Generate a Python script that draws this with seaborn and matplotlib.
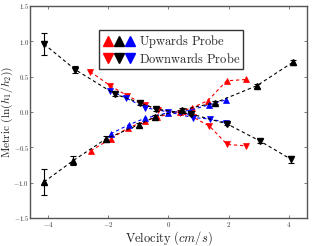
import matplotlib
matplotlib.use("Agg")
import matplotlib.pyplot as plt
import seaborn as sns
import numpy as np
from matplotlib.lines import Line2D
from matplotlib.legend_handler import HandlerTuple
from matplotlib.ticker import FuncFormatter

# ---- data ----
black_up_x = [-4.13, -3.17, -2.07, -0.98, -0.45, 0.45, 1.55, 2.93, 4.12]
black_up_y = [-0.99, -0.69, -0.38, -0.18, -0.07, 0.03, 0.13, 0.37, 0.70]
black_up_err = [0.18, 0.06, 0.04, 0.03, 0.02, 0.02, 0.02, 0.03, 0.03]

black_down_x = [-4.13, -3.10, -1.77, -0.95, -0.40, 0.76, 1.95, 3.03, 4.07]
black_down_y = [0.96, 0.60, 0.25, 0.13, 0.04, -0.03, -0.17, -0.41, -0.67]
black_down_err = [0.16, 0.05, 0.03, 0.03, 0.02, 0.02, 0.02, 0.03, 0.05]

red_up_x = [-2.58, -1.92, -1.36, -0.79, -0.38, 0.37, 0.79, 1.31, 1.93, 2.59]
red_up_y = [-0.55, -0.38, -0.23, -0.13, -0.07, 0.00, 0.06, 0.16, 0.44, 0.46]

red_down_x = [-2.60, -1.93, -1.37, -0.77, -0.35, 0.37, 0.80, 1.36, 1.95, 2.59]
red_down_y = [0.57, 0.37, 0.23, 0.10, 0.03, -0.01, -0.07, -0.20, -0.46, -0.48]

blue_up_x = [-1.92, -1.31, -0.78, 0.00, 0.70, 1.33, 1.90]
blue_up_y = [-0.31, -0.18, -0.09, -0.01, 0.02, 0.10, 0.17]

blue_down_x = [-1.93, -1.42, -0.77, 0.00, 0.81, 1.38, 1.92]
blue_down_y = [0.30, 0.20, 0.06, 0.00, -0.08, -0.10, -0.15]

x_ticks = [-4, -2, 0, 2, 4]
y_ticks = [-1.5, -1.0, -0.5, 0.0, 0.5, 1.0, 1.5]

sns.set_style("ticks")
plt.rcParams["mathtext.fontset"] = "cm"
plt.rcParams["font.family"] = ["DejaVu Serif"]

fig = plt.figure(figsize=(3.12, 2.46), dpi=100)
ax = fig.add_axes([0.096, 0.114, 0.888, 0.862])

RED = "#ff0000"
BLUE = "#0000ff"
BLK = "#000000"
ms = 4.6
lw = 0.8

def series(x, y, color, marker):
    sns.lineplot(x=x, y=y, ax=ax, color=color, marker=marker, markersize=ms,
                 linestyle=(0, (3, 2.5)), linewidth=lw, markeredgecolor=color,
                 markeredgewidth=0.5, sort=False, estimator=None)

series(red_up_x, red_up_y, RED, "^")
series(red_down_x, red_down_y, RED, "v")
series(blue_up_x, blue_up_y, BLUE, "^")
series(blue_down_x, blue_down_y, BLUE, "v")
ax.errorbar(black_up_x, black_up_y, yerr=black_up_err, color=BLK, marker="^",
            markersize=ms, linestyle=(0, (3, 2.5)), linewidth=lw, capsize=2,
            elinewidth=0.8, capthick=0.8)
ax.errorbar(black_down_x, black_down_y, yerr=black_down_err, color=BLK, marker="v",
            markersize=ms, linestyle=(0, (3, 2.5)), linewidth=lw, capsize=2,
            elinewidth=0.8, capthick=0.8)

ax.set_xlim(-4.6, 4.6)
ax.set_ylim(-1.5, 1.5)
ax.set_xticks(x_ticks)
ax.set_yticks(y_ticks)
ax.xaxis.set_major_formatter(FuncFormatter(lambda v, p: r"$%d$" % v))
ax.yaxis.set_major_formatter(FuncFormatter(lambda v, p: r"$%.1f$" % v))
ax.tick_params(direction="in", length=2.5, width=0.6, labelsize=5.0,
               colors="#666666", labelcolor="#333333", top=True, right=True,
               pad=1.5)
ax.tick_params(axis="y", pad=0.8, labelsize=4.8)
for s in ax.spines.values():
    s.set_color("#555555")
    s.set_linewidth(1.0)

ax.set_xlabel(r"$\mathrm{Velocity}\ (cm/s)$", fontsize=9, color="#222222")
ax.set_ylabel(r"$\mathrm{Metric}\ (\ln(h_1/h_2))$", fontsize=8.2, color="#222222")
ax.xaxis.set_label_coords(0.5, -0.052)
ax.yaxis.set_label_coords(-0.053, 0.5)

def mk(c, m):
    return Line2D([], [], color=c, marker=m, linestyle="none", markersize=6.5,
                  markeredgecolor=c)

h_up = (mk(RED, "^"), mk(BLK, "^"), mk(BLUE, "^"))
h_dn = (mk(RED, "v"), mk(BLK, "v"), mk(BLUE, "v"))
leg = ax.legend([h_up, h_dn],
                [r"$\mathrm{Upwards\ Probe}$", r"$\mathrm{Downwards\ Probe}$"],
                handler_map={tuple: HandlerTuple(ndivide=None, pad=0.0)},
                loc="upper center", bbox_to_anchor=(0.51, 0.885),
                fontsize=9, frameon=True, fancybox=False, handlelength=2.6,
                handletextpad=0.3, borderpad=0.25, labelspacing=0.1,
                borderaxespad=0.0)
leg.get_frame().set_edgecolor("black")
leg.get_frame().set_linewidth(1.0)

fig.savefig("out.png", dpi=100)
